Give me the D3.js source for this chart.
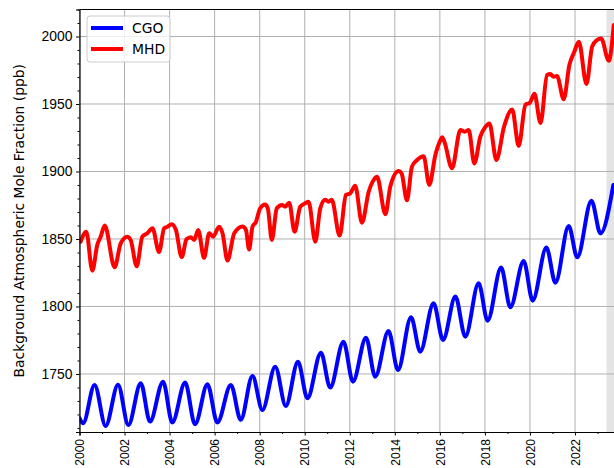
<!DOCTYPE html>
<html>
<head>
<meta charset="utf-8">
<script src="https://cdn.jsdelivr.net/npm/d3@7"></script>
<style>
  html, body { margin: 0; padding: 0; background: #fff; overflow: hidden; }
  svg { display: block; font-family: "DejaVu Sans", sans-serif; }
</style>
</head>
<body>
<div id="chart"></div>
<script>
// ---- data (decimal year, ppb) ----
const cgoYears = [2000.0,2000.16,2000.67,2001.16,2001.71,2002.17,2002.72,2003.13,2003.71,2004.12,2004.69,2005.13,2005.68,2006.12,2006.72,2007.16,2007.68,2008.12,2008.69,2009.16,2009.70,2010.12,2010.72,2011.13,2011.72,2012.14,2012.72,2013.13,2013.72,2014.14,2014.72,2015.13,2015.72,2016.14,2016.69,2017.13,2017.72,2018.12,2018.72,2019.13,2019.72,2020.12,2020.73,2021.13,2021.72,2022.10,2022.73,2023.13,2023.70];
const cgoValues = [1717.4,1713.5,1741.9,1711.5,1742.0,1712.2,1743.1,1714.7,1744.3,1714.0,1743.6,1712.7,1742.4,1714.0,1741.9,1716.0,1748.5,1723.3,1755.4,1726.3,1759.1,1732.0,1765.8,1739.9,1773.9,1744.3,1776.9,1748.0,1781.8,1752.9,1792.0,1766.5,1802.4,1775.2,1807.3,1777.6,1817.2,1789.5,1828.8,1799.4,1833.7,1804.3,1843.6,1817.6,1859.6,1836.4,1878.4,1854.2,1890.0];

const mhdYears = [2000.05,2000.3,2000.57,2000.79,2000.94,2001.12,2001.56,2001.83,2002.12,2002.27,2002.54,2002.79,2003.01,2003.24,2003.53,2003.76,2003.9,2004.1,2004.28,2004.54,2004.75,2004.94,2005.09,2005.27,2005.53,2005.76,2005.93,2006.2,2006.35,2006.57,2006.87,2007.24,2007.39,2007.53,2007.68,2007.83,2008.02,2008.24,2008.36,2008.54,2008.76,2008.99,2009.13,2009.31,2009.55,2009.8,2010.02,2010.17,2010.47,2010.69,2010.91,2011.06,2011.2,2011.55,2011.83,2012.02,2012.24,2012.54,2012.84,2013.06,2013.21,2013.58,2013.8,2014.17,2014.3,2014.54,2014.76,2014.99,2015.28,2015.53,2015.8,2016.02,2016.1,2016.2,2016.54,2016.91,2017.1,2017.28,2017.53,2017.8,2018.0,2018.2,2018.51,2018.85,2019.21,2019.5,2019.8,2020.0,2020.2,2020.47,2020.76,2020.9,2021.05,2021.2,2021.5,2021.75,2021.97,2022.17,2022.51,2022.76,2022.98,2023.16,2023.5,2023.72];
const mhdValues = [1848,1855.4,1826.5,1845.6,1851.7,1860,1829,1846.8,1851.7,1849.3,1829.8,1851.7,1854.2,1857.9,1840.3,1857.9,1859,1861,1856.7,1836.5,1849.8,1851.3,1849.3,1856.7,1836,1854.2,1851.7,1859,1854.2,1834,1854.2,1859.3,1856.7,1842.2,1859,1862.5,1872.7,1875.5,1872.7,1849.3,1872.7,1875.2,1873.9,1876.9,1855.4,1873.9,1876.4,1877.6,1848,1872.7,1879,1877.6,1879,1852.5,1882.6,1883.8,1889.5,1862,1885,1893.7,1896.1,1868.4,1888.9,1900.3,1898.6,1878.6,1903.6,1908.5,1911.3,1890,1912.2,1923,1925.3,1922,1902.4,1930.7,1929.5,1930.7,1906,1926,1932.5,1935.5,1908.5,1933.2,1946,1919,1949.5,1951,1957.5,1935.9,1971.5,1972.2,1970.2,1970.7,1953.5,1978.9,1988.7,1996.1,1964.8,1992.5,1997.4,1998.6,1982,2008.5];

const seriesNames = ["CGO", "MHD"];
const seriesColors = ["#0000ff", "#ff0000"];
const xTickYears = [2000,2002,2004,2006,2008,2010,2012,2014,2016,2018,2020,2022];
const yTickValues = [1750,1800,1850,1900,1950,2000];
const shadeStart = 2023.4;
const yLabel = "Background Atmospheric Mole Fraction (ppb)";

// ---- layout ----
const W = 614, H = 468;
const mLeft = 79.5, mTop = 9.5, mBottom = 432, mRight = 616;
const x = d3.scaleLinear().domain([2000, 2023.82]).range([mLeft, mRight]);
const y = d3.scaleLinear().domain([1707, 2020]).range([mBottom, mTop]);

const svg = d3.select("#chart").append("svg").attr("width", W).attr("height", H);

svg.append("defs").append("clipPath").attr("id", "clip")
  .append("rect").attr("x", mLeft).attr("y", mTop).attr("width", mRight - mLeft).attr("height", mBottom - mTop);

// shaded band
svg.append("rect")
  .attr("x", x(shadeStart)).attr("y", mTop)
  .attr("width", mRight - x(shadeStart)).attr("height", mBottom - mTop)
  .attr("fill", "#e4e4e4");

// grid
const grid = svg.append("g").attr("stroke", "#b0b0b0").attr("stroke-width", 1);
grid.selectAll("line.v").data(xTickYears).join("line")
  .attr("x1", d => x(d)).attr("x2", d => x(d)).attr("y1", mTop).attr("y2", mBottom);
grid.selectAll("line.h").data(yTickValues).join("line")
  .attr("y1", d => y(d)).attr("y2", d => y(d)).attr("x1", mLeft).attr("x2", mRight);

// series
const line = d3.line().x(d => x(d[0])).y(d => y(d[1])).curve(d3.curveMonotoneX);
const cgo = cgoYears.map((t, i) => [t, cgoValues[i]]);
const mhd = mhdYears.map((t, i) => [t, mhdValues[i]]);
const plotG = svg.append("g").attr("clip-path", "url(#clip)");
[cgo, mhd].forEach((s, i) => {
  plotG.append("path").datum(s).attr("d", line)
    .attr("fill", "none").attr("stroke", seriesColors[i])
    .attr("stroke-width", 4).attr("stroke-linejoin", "round").attr("stroke-linecap", "round");
});

// axes
const minorY = d3.range(1710, 2021, 10).filter(v => v % 50 !== 0);
const minorX = d3.range(2001, 2024, 2);

svg.append("g").attr("transform", `translate(${mLeft},0)`)
  .call(d3.axisLeft(y).tickValues(minorY).tickSize(2).tickFormat(""))
  .call(g => g.select(".domain").remove());
const yAx = svg.append("g").attr("transform", `translate(${mLeft},0)`)
  .call(d3.axisLeft(y).tickValues(yTickValues).tickSize(3.5).tickPadding(3.5).tickFormat(d3.format("d")));
yAx.selectAll("text").attr("font-size", "13.9px").attr("fill", "#000");
yAx.select(".domain").attr("stroke", "#000").attr("stroke-width", 1.2);

svg.append("g").attr("transform", `translate(0,${mBottom})`)
  .call(d3.axisBottom(x).tickValues(minorX).tickSize(2).tickFormat(""))
  .call(g => g.select(".domain").remove());
const xAx = svg.append("g").attr("transform", `translate(0,${mBottom})`)
  .call(d3.axisBottom(x).tickValues(xTickYears).tickSize(3.5).tickFormat(d3.format("d")));
xAx.select(".domain").attr("stroke", "#000").attr("stroke-width", 1.2);
xAx.selectAll("text")
  .attr("font-size", "12px").attr("fill", "#000")
  .attr("y", 0).attr("x", -7).attr("dy", "0.35em")
  .attr("transform", "rotate(-90)")
  .style("text-anchor", "end");

// top spine
svg.append("line").attr("x1", mLeft).attr("x2", mRight).attr("y1", mTop).attr("y2", mTop)
  .attr("stroke", "#000").attr("stroke-width", 1.2);

// y label
svg.append("text")
  .attr("transform", `translate(24,${(mTop + mBottom) / 2}) rotate(-90)`)
  .attr("text-anchor", "middle")
  .attr("font-size", "13.9px").attr("fill", "#000")
  .text(yLabel);

// legend
const lg = svg.append("g");
lg.append("rect").attr("x", 87).attr("y", 16).attr("width", 83).attr("height", 46).attr("rx", 3)
  .attr("fill", "#fff").attr("fill-opacity", 0.8).attr("stroke", "#cccccc");
seriesNames.forEach((n, i) => {
  const ly = 28 + i * 21;
  lg.append("line").attr("x1", 91).attr("x2", 123).attr("y1", ly).attr("y2", ly)
    .attr("stroke", seriesColors[i]).attr("stroke-width", 4);
  lg.append("text").attr("x", 132).attr("y", ly).attr("dy", "0.35em")
    .attr("font-size", "13.9px").attr("fill", "#000").text(n);
});
</script>
</body>
</html>
